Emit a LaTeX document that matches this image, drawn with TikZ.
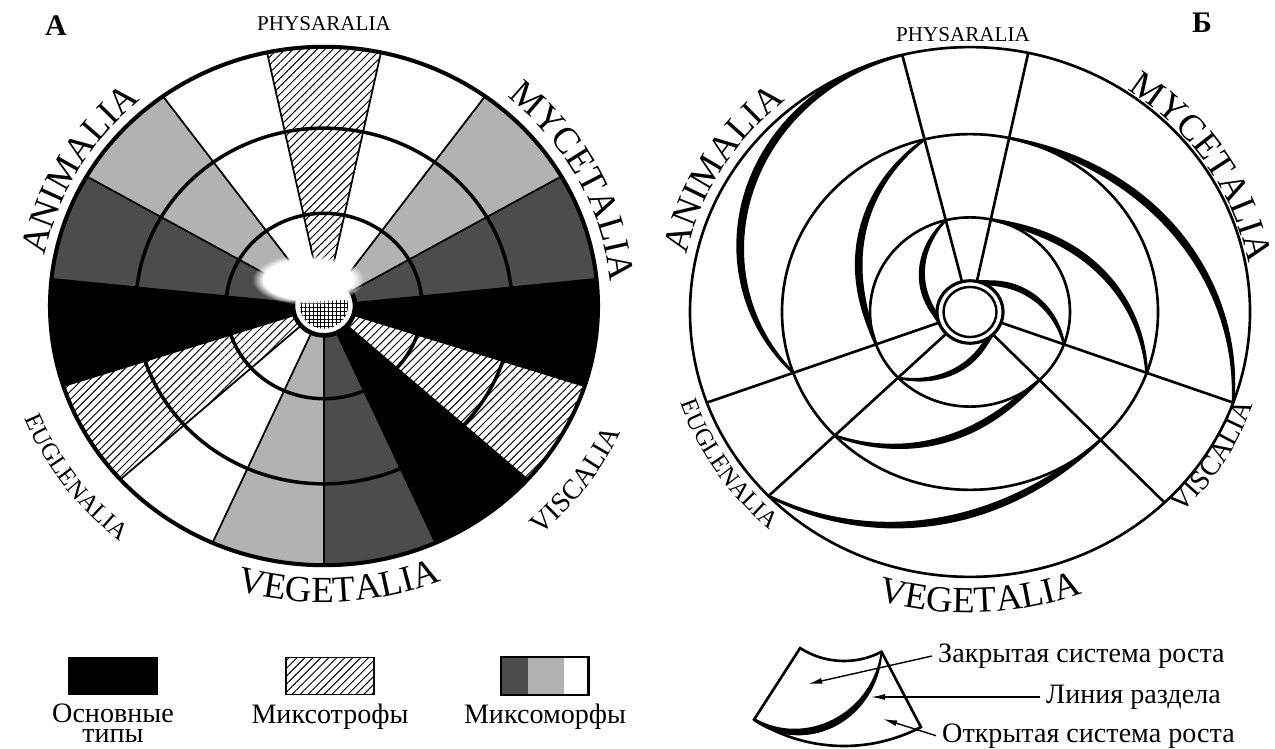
\documentclass[tikz,border=0pt]{standalone}
\usepackage{fontspec}
\setmainfont{Liberation Serif}
\usetikzlibrary{arrows.meta, positioning, decorations.text, patterns.meta, fadings}

\definecolor{lightpart}{gray}{0.70}
\definecolor{darkpart}{gray}{0.30}

% tapered thick line between two rings: start angle, sweep, r0, r1, profile
\newcommand\growthline[5]{%
  \fill plot[domain=0:1, samples=50, variable=\t]
      ({#1+#2*\t}:{#3-(#3-#4)*(#5)+1.5+2.7*sin(180*\t)})
    -- plot[domain=1:0, samples=50, variable=\t]
      ({#1+#2*\t}:{#3-(#3-#4)*(#5)-1.5-2.7*sin(180*\t)}) -- cycle;}

\begin{document}
\begin{tikzpicture}[x=0.02cm, y=0.02cm,
  ring/.style={line width=2pt},
  thinring/.style={line width=1.5pt},
  spoke/.style={line width=1pt},
  hatchfill/.style={pattern={Lines[angle=45, distance=3.2pt, line width=0.55pt]}},
  gridfill/.style={pattern={Hatch[distance=2.2pt, line width=0.5pt]}},
  keybox/.style={draw, line width=1pt, minimum width=1.76cm, minimum height=0.74cm, inner sep=0pt},
  keytext/.style={font=\fontsize{16}{11.5}\selectfont, align=center},
  panel/.style={font=\bfseries\fontsize{17}{19}\selectfont},
  smallname/.style={font=\fontsize{12}{14}\selectfont},
  curvedname/.style 2 args={decorate, decoration={text along path, text align=center,
      text={|\fontsize{#1}{#1}\selectfont|#2}}},
  pointer/.style={line width=0.8pt, -{Latex[length=8pt, width=3.4pt]}}
]
\useasboundingbox (0,0) rectangle (1275,748);

% ---------- panel A ----------
\node[panel] (panelA) at (56,722) {А};
\node[smallname] (physA) at (324,724) {PHYSARALIA};
\begin{scope}[shift={(324,442)}, yscale=0.946]
  \foreach \a/\f in {-66/black, -42/white, -18/black, 6/darkpart, 30/lightpart, 54/white,
                     78/white, 102/white, 126/lightpart, 150/darkpart, 174/black,
                     198/white, 222/white, 246/lightpart, 270/darkpart}
    \path[fill=\f] (0,0) -- (\a:274) arc[start angle=\a, end angle=\a+24, radius=274] -- cycle;
  \foreach \a in {-42, 78, 198}
    \path[hatchfill] (0,0) -- (\a:274) arc[start angle=\a, end angle=\a+24, radius=274] -- cycle;
  \foreach \a in {-66,-42,...,270}
    \draw[spoke] (\a:30) -- (\a:274);
  \draw[ring] (0,0) circle[radius=98] (0,0) circle[radius=188];
  \draw[line width=2.3pt] (0,0) circle[radius=274];
  % hub
  \fill[white] (0,0) circle[radius=32];
  \begin{scope}
    \clip (-30,-30) rectangle (30,6);
    \path[gridfill] (0,0) circle[radius=24];
  \end{scope}
  \draw[line width=2.6pt] (0,0) circle[radius=31];
  \fill[white, path fading=circle with fuzzy edge 20 percent] (-16,28) ellipse[x radius=56, y radius=27];
  % names
  \path[curvedname={21}{ANIMALIA}] (185:284) arc[start angle=185, end angle=115, radius=284];
  \path[curvedname={21}{MYCETALIA}] (65:287) arc[start angle=65, end angle=-10, radius=287];
  \path[curvedname={21}{VEGETALIA}] (-127:313) arc[start angle=-127, end angle=-47, radius=313];
  \path[curvedname={14}{EUGLENALIA}] (190:322) arc[start angle=190, end angle=242, radius=322];
  \path[curvedname={16}{VISCALIA}] (-60:325) arc[start angle=-60, end angle=-12, radius=325];
\end{scope}

% legend A
\node[keybox, fill=black] (keyMain) at (113,72) {};
\node[keytext, below=0.04cm of keyMain] (keyMainTxt) {Основные\\типы};
\node[keybox, hatchfill] (keyMixo) at (330,72) {};
\node[keytext, below=0.04cm of keyMixo] (keyMixoTxt) {Миксотрофы};
\node[keybox, minimum width=1.72cm] (keyMorph) at (545,72) {};
\fill[darkpart] (keyMorph.south west) rectangle ([xshift=0.53cm]keyMorph.north west);
\fill[lightpart] ([xshift=0.53cm]keyMorph.south west) rectangle ([xshift=1.26cm]keyMorph.north west);
\draw[line width=1pt] (keyMorph.south west) rectangle (keyMorph.north east);
\node[keytext, below=0.04cm of keyMorph] (keyMorphTxt) {Миксоморфы};

% ---------- panel B ----------
\node[panel] (panelB) at (1202,725) {Б};
\node[smallname] (physB) at (963,713) {PHYSARALIA};
\begin{scope}[shift={(970,436)}, yscale=0.946]
  \growthline{104}{96}{280}{188}{1-cos(90*\t)}
  \growthline{104}{96}{188}{100}{sin(90*\t)}
  \growthline{104}{96}{100}{33}{sin(90*\t)}
  \growthline{224}{90}{280}{188}{sin(90*\t)}
  \growthline{224}{90}{188}{100}{sin(90*\t)}
  \growthline{224}{90}{100}{33}{sin(90*\t)}
  \growthline{-20}{98}{280}{188}{sin(90*\t)}
  \growthline{-20}{98}{188}{100}{sin(90*\t)}
  \growthline{-20}{98}{100}{33}{sin(90*\t)}
  \foreach \a in {104, 78, 200, 224, -46, -20}
    \draw[thinring] (\a:33) -- (\a:280);
  \draw[thinring] (0,0) circle[radius=100] (0,0) circle[radius=188] (0,0) circle[radius=280];
  % hub
  \fill[white] (0,0) circle[radius=34];
  \draw[line width=1.8pt] (0,0) circle[radius=33];
  \draw[line width=1.4pt] (0,0) circle[radius=26.5];
  % names
  \path[curvedname={21}{ANIMALIA}] (184:290) arc[start angle=184, end angle=114, radius=290];
  \path[curvedname={21}{MYCETALIA}] (71:283) arc[start angle=71, end angle=-5, radius=283];
  \path[curvedname={21}{VEGETALIA}] (-128:318) arc[start angle=-128, end angle=-48, radius=318];
  \path[curvedname={14}{EUGLENALIA}] (187:305) arc[start angle=187, end angle=240, radius=305];
  \path[curvedname={16}{VISCALIA}] (-56:300) arc[start angle=-56, end angle=-8, radius=300];
\end{scope}

% legend B
\coordinate (keyC) at (844,168);
\draw[thinring] ([shift={(237.2:166)}]keyC) -- ([shift={(237.2:81)}]keyC)
  arc[start angle=237.2, end angle=297.6, radius=81] -- ([shift={(297.6:166)}]keyC)
  arc[start angle=297.6, end angle=237.2, radius=166] -- cycle;
\begin{scope}[shift={(keyC)}]
  \growthline{297.6}{-60.4}{81}{166}{sin(90*\t)}
\end{scope}
\node[keytext, anchor=west] (closedTxt) at (932,92) {Закрытая система роста};
\node[keytext, anchor=west] (lineTxt) at (1040,51) {Линия раздела};
\node[keytext, anchor=base west] (openTxt) at (936,6) {Открытая система роста};
\coordinate (closedPt) at (808,64);
\coordinate (linePt) at (871,51);
\coordinate (openPt) at (883,29);
\draw[pointer] (closedTxt.west) -- (closedPt);
\draw[pointer] (lineTxt.west) -- (linePt);
\draw[pointer] (openTxt.west) -- (openPt);
\end{tikzpicture}
\end{document}
